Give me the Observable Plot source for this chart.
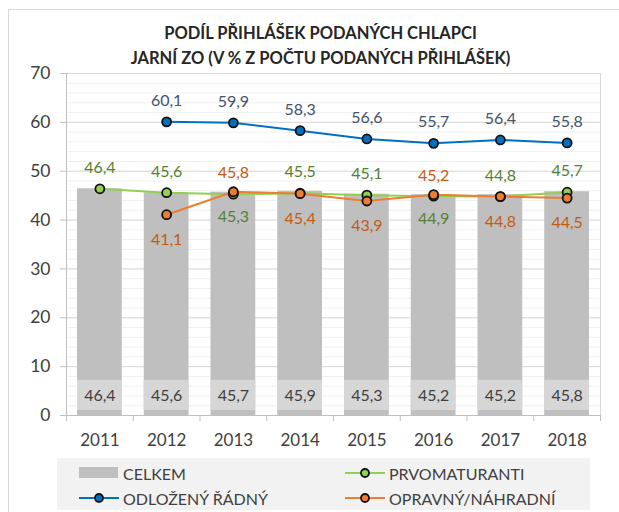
<!DOCTYPE html>
<html>
<head>
<meta charset="utf-8">
<script src="https://cdn.jsdelivr.net/npm/d3@7"></script>
<script src="https://cdn.jsdelivr.net/npm/@observablehq/plot@0.6"></script>
<style>
  body { margin: 0; background: #fff; font-family: Lato, "Noto Sans", sans-serif; }
  #wrap { position: relative; width: 619px; height: 512px; overflow: hidden; background: #fff; }
  #frame { position: absolute; left: 8px; top: 9px; width: 640px; height: 540px; border: 1px solid #d9d9d9; box-sizing: border-box; }
  #title { position: absolute; left: 0; top: 21px; width: 641px; text-align: center; font-weight: bold; font-size: 16.5px; line-height: 25px; color: #262626; }
  #chart { position: absolute; left: 0; top: 0; }
  #legend { position: absolute; left: 57px; top: 458px; width: 533px; height: 52px; background: #f2f2f2; }
  .item { position: absolute; display: flex; align-items: center; font-size: 16px; color: #404040; height: 20px; }
  .item svg { margin-right: 4px; }
</style>
</head>
<body>
<div id="wrap">
  <div id="frame"></div>
  <div id="chart"></div>
  <div id="title">PODÍL PŘIHLÁŠEK PODANÝCH CHLAPCI<br>JARNÍ ZO (V % Z POČTU PODANÝCH PŘIHLÁŠEK)</div>
  <div id="legend"></div>
</div>
<script>
// ---- data ----
const years = [2011, 2012, 2013, 2014, 2015, 2016, 2017, 2018];
const celkem = [46.4, 45.6, 45.7, 45.9, 45.3, 45.2, 45.2, 45.8];
const prvomaturanti = [46.4, 45.6, 45.3, 45.5, 45.1, 44.9, 44.8, 45.7];
const odlozeny = [null, 60.1, 59.9, 58.3, 56.6, 55.7, 56.4, 55.8];
const opravny = [null, 41.1, 45.8, 45.4, 43.9, 45.2, 44.8, 44.5];
const prvoLabelSide = ["above", "above", "below", "above", "above", "below", "above", "above"];
const opravnyLabelSide = [null, "below", "above", "below", "below", "above", "below", "below"];
const yTicks = [0, 10, 20, 30, 40, 50, 60, 70];
const seriesNames = ["CELKEM", "PRVOMATURANTI", "ODLOŽENÝ ŘÁDNÝ", "OPRAVNÝ/NÁHRADNÍ"];

const colors = {
  celkem: "#bfbfbf", celkemBox: "#d9d9d9",
  prvo: "#92d050", prvoText: "#548235",
  odl: "#0070c0", odlText: "#44546a",
  opr: "#ed7d31", oprText: "#c55a11"
};

const rows = years.map((year, i) => ({
  year, celkem: celkem[i], prvo: prvomaturanti[i], odl: odlozeny[i], opr: opravny[i],
  prvoSide: prvoLabelSide[i], oprSide: opravnyLabelSide[i]
}));
const fmt = v => String(v.toFixed(1)).replace(".", ",");
const minorTicks = d3.range(0, 71, 2);
const boundaries = [...years.map(y => y - 0.5), years[years.length - 1] + 0.5];

const odlRows = rows.filter(d => d.odl != null);
const oprRows = rows.filter(d => d.opr != null);

const fontSize = 16;
const chart = Plot.plot({
  width: 619,
  height: 512,
  marginTop: 73,
  marginBottom: 97,
  marginLeft: 66,
  marginRight: 19,
  style: { fontFamily: "Lato, 'Noto Sans', sans-serif", fontSize: "16px", color: "#404040", background: "transparent", overflow: "visible" },
  x: { type: "linear", domain: [years[0] - 0.5, years[years.length - 1] + 0.5], label: null },
  y: { domain: [0, 70], label: null },
  marks: [
    Plot.ruleY(minorTicks, { stroke: "#f0f0f0", strokeWidth: 1 }),
    Plot.ruleY(yTicks, { stroke: "#d9d9d9", strokeWidth: 1 }),
    Plot.ruleX([boundaries[0], boundaries[boundaries.length - 1]], { stroke: "#d9d9d9" }),
    // bars
    Plot.rectY(rows, { x1: d => d.year - 0.5, x2: d => d.year + 0.5, y: "celkem", fill: colors.celkem, insetLeft: 11, insetRight: 11 }),
    Plot.rectY(rows, { x1: d => d.year - 0.5, x2: d => d.year + 0.5, y1: 1, y2: 7.2, fill: colors.celkemBox, fillOpacity: 0.85, insetLeft: 11, insetRight: 11 }),
    Plot.text(rows, { x: "year", y: 4.1, text: d => fmt(d.celkem), fill: "#404040", fontSize }),
    // axes
    Plot.axisY({ ticks: yTicks, tickSize: 6, tickPadding: 10, fontSize: 17.5, tickFormat: d => String(d), color: "#404040", stroke: "#bfbfbf", label: null }),
    Plot.ruleX([boundaries[0]], { stroke: "#bfbfbf" }),
    Plot.axisX({ ticks: boundaries, tickSize: 6, tickFormat: () => "", stroke: "#bfbfbf", label: null }),
    Plot.axisX({ ticks: years, tickSize: 0, tickPadding: 18, fontSize: 17, tickFormat: d => String(d), color: "#404040", label: null }),
    Plot.ruleY([0], { stroke: "#bfbfbf" }),
    // lines
    Plot.line(rows, { x: "year", y: "prvo", stroke: colors.prvo, strokeWidth: 2 }),
    Plot.line(odlRows, { x: "year", y: "odl", stroke: colors.odl, strokeWidth: 2 }),
    Plot.line(oprRows, { x: "year", y: "opr", stroke: colors.opr, strokeWidth: 2 }),
    Plot.dot(rows, { x: "year", y: "prvo", r: 4.5, fill: colors.prvo, stroke: "#111", strokeWidth: 1.8 }),
    Plot.dot(odlRows, { x: "year", y: "odl", r: 4.5, fill: colors.odl, stroke: "#111", strokeWidth: 1.8 }),
    Plot.dot(oprRows, { x: "year", y: "opr", r: 4.5, fill: colors.opr, stroke: "#111", strokeWidth: 1.8 }),
    // labels
    Plot.text(odlRows, { x: "year", y: "odl", text: d => fmt(d.odl), dy: -21, fill: colors.odlText, fontSize }),
    Plot.text(rows.filter(d => d.prvoSide === "above"), { x: "year", y: "prvo", text: d => fmt(d.prvo), dy: -21, fill: colors.prvoText, fontSize }),
    Plot.text(rows.filter(d => d.prvoSide === "below"), { x: "year", y: "prvo", text: d => fmt(d.prvo), dy: 23, fill: colors.prvoText, fontSize }),
    Plot.text(oprRows.filter(d => d.oprSide === "above"), { x: "year", y: "opr", text: d => fmt(d.opr), dy: -19, fill: colors.oprText, fontSize }),
    Plot.text(oprRows.filter(d => d.oprSide === "below"), { x: "year", y: "opr", text: d => fmt(d.opr), dy: 25, fill: colors.oprText, fontSize })
  ]
});
document.getElementById("chart").appendChild(chart);

// legend
const legend = document.getElementById("legend");
const legendItems = [
  { name: seriesNames[0], kind: "bar", color: colors.celkem, left: 22, top: 5 },
  { name: seriesNames[1], kind: "line", color: colors.prvo, left: 288, top: 5 },
  { name: seriesNames[2], kind: "line", color: colors.odl, left: 22, top: 30 },
  { name: seriesNames[3], kind: "line", color: colors.opr, left: 288, top: 30 }
];
for (const it of legendItems) {
  const div = document.createElement("div");
  div.className = "item";
  div.style.left = it.left + "px";
  div.style.top = it.top + "px";
  const svg = d3.create("svg").attr("width", 40).attr("height", 20);
  if (it.kind === "bar") {
    svg.append("rect").attr("x", 0).attr("y", 4).attr("width", 39).attr("height", 11).attr("fill", it.color);
  } else {
    svg.append("line").attr("x1", 0).attr("x2", 40).attr("y1", 10).attr("y2", 10).attr("stroke", it.color).attr("stroke-width", 2);
    svg.append("circle").attr("cx", 20).attr("cy", 10).attr("r", 4).attr("fill", it.color).attr("stroke", "#111").attr("stroke-width", 1.8);
  }
  div.appendChild(svg.node());
  const span = document.createElement("span");
  span.textContent = it.name;
  div.appendChild(span);
  legend.appendChild(div);
}
</script>
</body>
</html>
